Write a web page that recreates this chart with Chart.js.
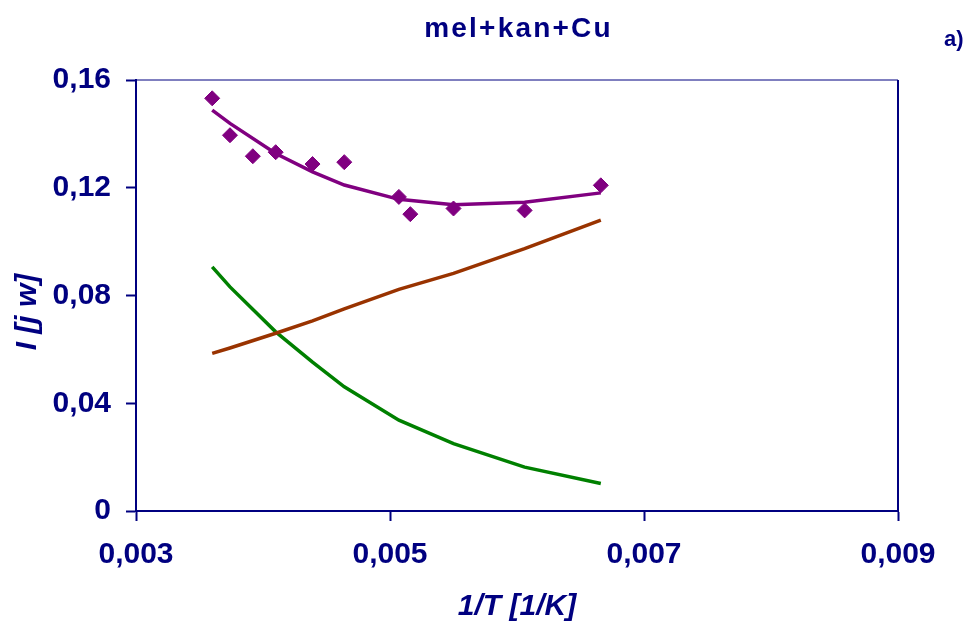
<!DOCTYPE html>
<html>
<head>
<meta charset="utf-8">
<title>mel+kan+Cu</title>
<script src="https://cdn.jsdelivr.net/npm/chart.js@4.4.1/dist/chart.umd.min.js"></script>
<style>
  html, body { margin: 0; padding: 0; background: #ffffff; }
  #wrap { width: 971px; height: 625px; }
</style>
</head>
<body>
<div id="wrap"><canvas id="chart" width="971" height="625"></canvas></div>
<script>
// Measured intensity I [j w] against reciprocal temperature 1/T [1/K]
const measuredX = [0.00360, 0.00374, 0.00392, 0.00410, 0.00439, 0.00464, 0.00507, 0.00516, 0.00550, 0.00606, 0.00666];
const measuredI = [0.1532, 0.1395, 0.1317, 0.1332, 0.1288, 0.1295, 0.1166, 0.1102, 0.1123, 0.1116, 0.1209];

// Model curves evaluated on the fitting grid
const modelX   = [0.00360, 0.00374, 0.00410, 0.00439, 0.00464, 0.00507, 0.00550, 0.00606, 0.00666];
const fitTotal = [0.1488, 0.1439, 0.1327, 0.1259, 0.1210, 0.1157, 0.1137, 0.1146, 0.1181];
const rising   = [0.0585, 0.0605, 0.0660, 0.0706, 0.0750, 0.0823, 0.0882, 0.0974, 0.1080];
const falling  = [0.0906, 0.0832, 0.0665, 0.0553, 0.0461, 0.0337, 0.0250, 0.0163, 0.0102];

// Axis ticks
const xTicks = [0.003, 0.005, 0.007, 0.009];
const xTickLabels = ['0,003', '0,005', '0,007', '0,009'];
const yTicks = [0, 0.04, 0.08, 0.12, 0.16];
const yTickLabels = ['0', '0,04', '0,08', '0,12', '0,16'];

const chartTitle = 'mel+kan+Cu';
const panelTag = 'a)';
const xTitle = '1/T [1/K]';
const yTitle = 'I [j w]';

const NAVY = '#000080';
const FONT = '"Liberation Sans", Arial, Helvetica, sans-serif';

const pairs = (xs, ys) => xs.map((x, i) => ({ x: x, y: ys[i] }));

// Frame of the plot area plus the free-standing texts
const decorations = {
  id: 'decorations',
  beforeDatasetsDraw(chart) {
    const { ctx, chartArea: a } = chart;
    ctx.save();
    ctx.strokeStyle = NAVY;
    ctx.lineWidth = 1;
    ctx.beginPath();
    ctx.moveTo(a.left, a.top);
    ctx.lineTo(a.right, a.top);
    ctx.stroke();
    ctx.lineWidth = 2;
    ctx.beginPath();
    ctx.moveTo(a.right, a.top);
    ctx.lineTo(a.right, a.bottom);
    ctx.stroke();
    ctx.restore();
  },
  afterDraw(chart) {
    const ctx = chart.ctx;
    ctx.save();
    ctx.fillStyle = NAVY;
    ctx.textBaseline = 'alphabetic';

    ctx.font = 'bold 28px ' + FONT;
    ctx.textAlign = 'center';
    if ('letterSpacing' in ctx) ctx.letterSpacing = '2.2px';
    ctx.fillText(chartTitle, 518.5, 37);
    if ('letterSpacing' in ctx) ctx.letterSpacing = '0px';

    ctx.font = 'bold 22px ' + FONT;
    ctx.textAlign = 'left';
    ctx.fillText(panelTag, 944, 46);

    ctx.font = 'italic bold 30px ' + FONT;
    ctx.textAlign = 'center';
    ctx.translate(36, 312);
    ctx.rotate(-Math.PI / 2);
    ctx.fillText(yTitle, 0, 0);
    ctx.restore();
  }
};

new Chart(document.getElementById('chart'), {
  type: 'scatter',
  data: {
    datasets: [
      {
        label: 'measured',
        data: pairs(measuredX, measuredI),
        showLine: false,
        pointStyle: 'rectRot',
        pointRadius: 7.5,
        pointBorderWidth: 1,
        backgroundColor: '#800080',
        borderColor: '#800080',
        order: 1
      },
      {
        label: 'fit',
        data: pairs(modelX, fitTotal),
        showLine: true,
        borderColor: '#800080',
        borderWidth: 3.5,
        pointRadius: 0,
        tension: 0,
        order: 0
      },
      {
        label: 'rising term',
        data: pairs(modelX, rising),
        showLine: true,
        borderColor: '#993300',
        borderWidth: 3.5,
        pointRadius: 0,
        tension: 0,
        order: 2
      },
      {
        label: 'falling term',
        data: pairs(modelX, falling),
        showLine: true,
        borderColor: '#008000',
        borderWidth: 3.5,
        pointRadius: 0,
        tension: 0,
        order: 3
      }
    ]
  },
  options: {
    responsive: false,
    animation: false,
    devicePixelRatio: 1,
    layout: { padding: { left: 0, right: 73, top: 80, bottom: 0 } },
    plugins: {
      legend: { display: false },
      title: { display: false },
      tooltip: { enabled: false }
    },
    scales: {
      x: {
        type: 'linear',
        min: 0.003,
        max: 0.009,
        afterFit(scale) { scale.height = 114; },
        afterBuildTicks(scale) { scale.ticks = xTicks.map(v => ({ value: v })); },
        ticks: {
          autoSkip: false,
          maxRotation: 0,
          padding: 16,
          color: NAVY,
          font: { family: FONT, size: 30, weight: 'bold', lineHeight: 1.2 },
          callback: (v, i) => xTickLabels[i]
        },
        grid: {
          display: true,
          drawOnChartArea: false,
          drawTicks: true,
          tickLength: 10,
          tickColor: NAVY,
          tickWidth: 2,
          color: NAVY
        },
        border: { display: true, color: NAVY, width: 2 },
        title: {
          display: true,
          text: xTitle,
          color: NAVY,
          padding: { top: 0, bottom: 3.5 },
          font: { family: FONT, size: 30, weight: 'bold', style: 'italic', lineHeight: 1 }
        }
      },
      y: {
        type: 'linear',
        min: 0,
        max: 0.16,
        afterFit(scale) { scale.width = 136; },
        afterBuildTicks(scale) { scale.ticks = yTicks.map(v => ({ value: v })); },
        ticks: {
          autoSkip: false,
          padding: 15,
          color: NAVY,
          font: { family: FONT, size: 30, weight: 'bold', lineHeight: 1.2 },
          callback: (v, i) => yTickLabels[i]
        },
        grid: {
          display: true,
          drawOnChartArea: false,
          drawTicks: true,
          tickLength: 10,
          tickColor: NAVY,
          tickWidth: 2,
          color: NAVY
        },
        border: { display: true, color: NAVY, width: 2 }
      }
    }
  },
  plugins: [decorations]
});
</script>
</body>
</html>
